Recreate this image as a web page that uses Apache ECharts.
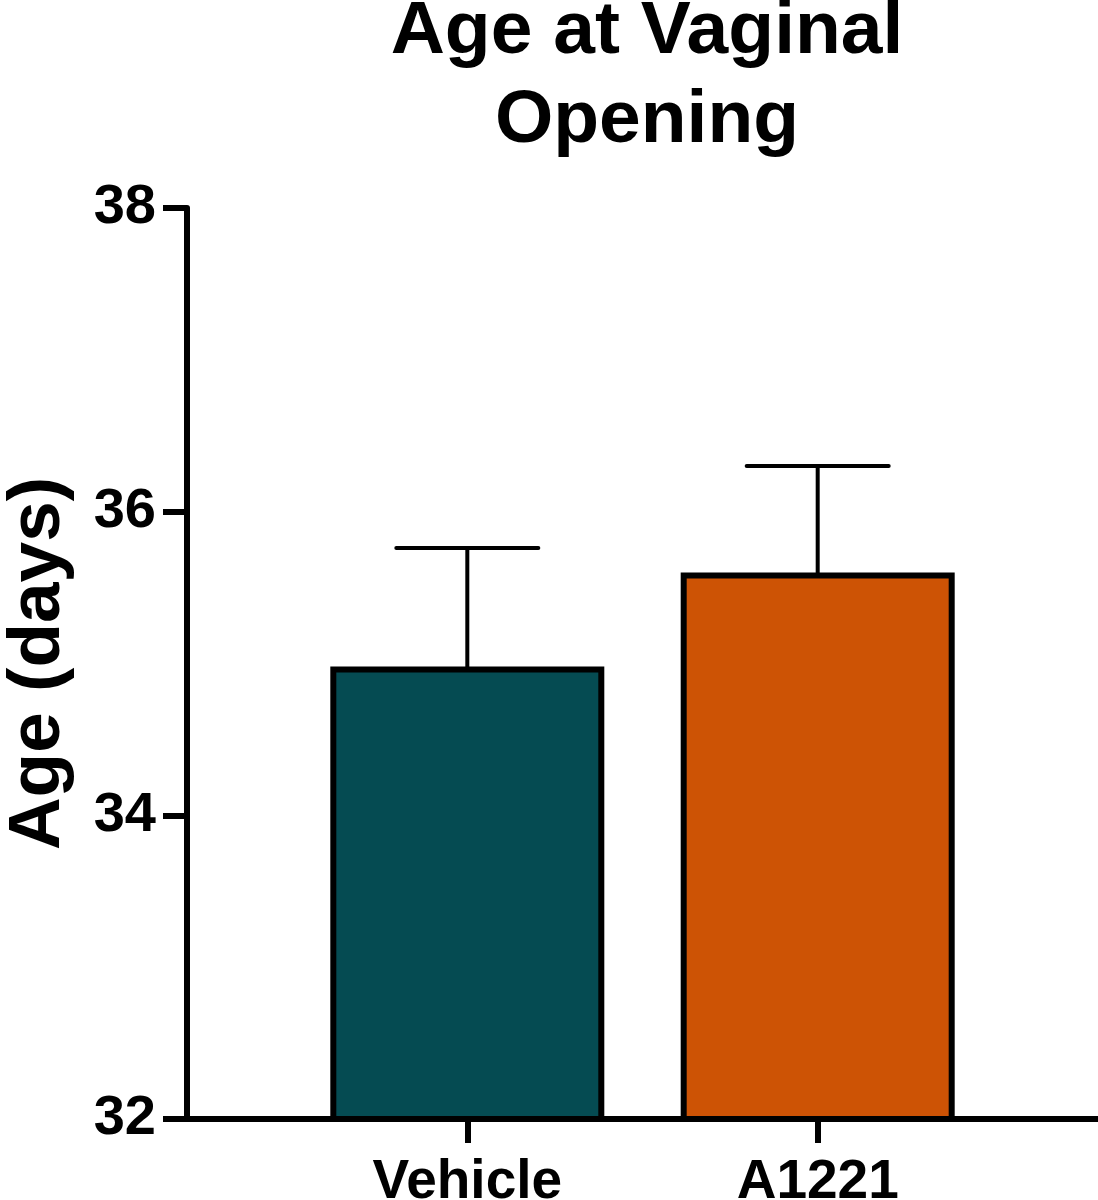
<!DOCTYPE html>
<html>
<head>
<meta charset="utf-8">
<script src="https://cdn.jsdelivr.net/npm/echarts@6/dist/echarts.min.js"></script>
<style>
  html, body { margin: 0; padding: 0; background: #fff; }
  #chart { width: 1098px; height: 1200px; }
</style>
</head>
<body>
<div id="chart"></div>
<script>
const categories = ['Vehicle', 'A1221'];
const means = [34.98, 35.60];
const sems = [0.78, 0.70];
const barColors = ['#054b52', '#cd5305'];
const yTicks = [32, 34, 36, 38];
const titleText = 'Age at Vaginal\nOpening';
const yName = 'Age (days)';

const FONT = '"Liberation Sans", Arial, sans-serif';
const positions = categories.map((c, i) => i + 1);

const chart = echarts.init(document.getElementById('chart'), null, { renderer: 'canvas' });

const barData = categories.map((c, i) => ({
  value: [positions[i], means[i]],
  itemStyle: { color: barColors[i] }
}));
const errData = categories.map((c, i) => [positions[i], means[i], means[i] + sems[i]]);

const option = {
  animation: false,
  backgroundColor: '#ffffff',
  title: {
    text: titleText,
    left: 642,
    textAlign: 'center',
    top: -17,
    textStyle: {
      fontFamily: FONT,
      fontWeight: 'bold',
      fontSize: 75,
      lineHeight: 89,
      color: '#000'
    }
  },
  grid: { left: 187, right: 0, top: 208, bottom: 81, containLabel: false, outerBoundsMode: 'none' },
  xAxis: {
    type: 'value',
    min: 0.2,
    max: 2.8,
    splitLine: { show: false },
    axisLine: { show: true, lineStyle: { color: '#000', width: 6 } },
    axisTick: { show: true, customValues: positions, length: 24, lineStyle: { color: '#000', width: 6 } },
    axisLabel: {
      customValues: positions,
      formatter: v => categories[Math.round(v) - 1] || '',
      margin: 36,
      fontFamily: FONT,
      fontWeight: 'bold',
      fontSize: 55,
      color: '#000'
    }
  },
  yAxis: {
    type: 'value',
    min: yTicks[0],
    max: yTicks[yTicks.length - 1],
    interval: 2,
    name: yName,
    nameLocation: 'middle',
    nameRotate: 90,
    nameGap: 112,
    nameTextStyle: {
      fontFamily: FONT,
      fontWeight: 'bold',
      fontSize: 73,
      color: '#000'
    },
    splitLine: { show: false },
    axisLine: { show: true, lineStyle: { color: '#000', width: 6 } },
    axisTick: { show: true, length: 24, lineStyle: { color: '#000', width: 6 } },
    axisLabel: {
      margin: 31,
      fontFamily: FONT,
      fontWeight: 'bold',
      fontSize: 56,
      color: '#000'
    }
  },
  series: [
    {
      type: 'custom',
      z: 1,
      renderItem: function (params, api) {
        const x = api.value(0);
        const lo = api.coord([x, api.value(1)]);
        const hi = api.coord([x, api.value(2)]);
        const half = 71;
        const style = { stroke: '#000', lineWidth: 4, lineCap: 'round' };
        return {
          type: 'group',
          children: [
            { type: 'line', shape: { x1: lo[0], y1: lo[1], x2: hi[0], y2: hi[1] }, style: style },
            { type: 'line', shape: { x1: hi[0] - half, y1: hi[1], x2: hi[0] + half, y2: hi[1] }, style: style }
          ]
        };
      },
      encode: { x: 0, y: [1, 2] },
      data: errData
    },
    {
      type: 'bar',
      z: 2,
      barWidth: 274,
      itemStyle: { borderColor: '#000', borderWidth: 6 },
      data: barData
    }
  ]
};

chart.setOption(option);
</script>
</body>
</html>
